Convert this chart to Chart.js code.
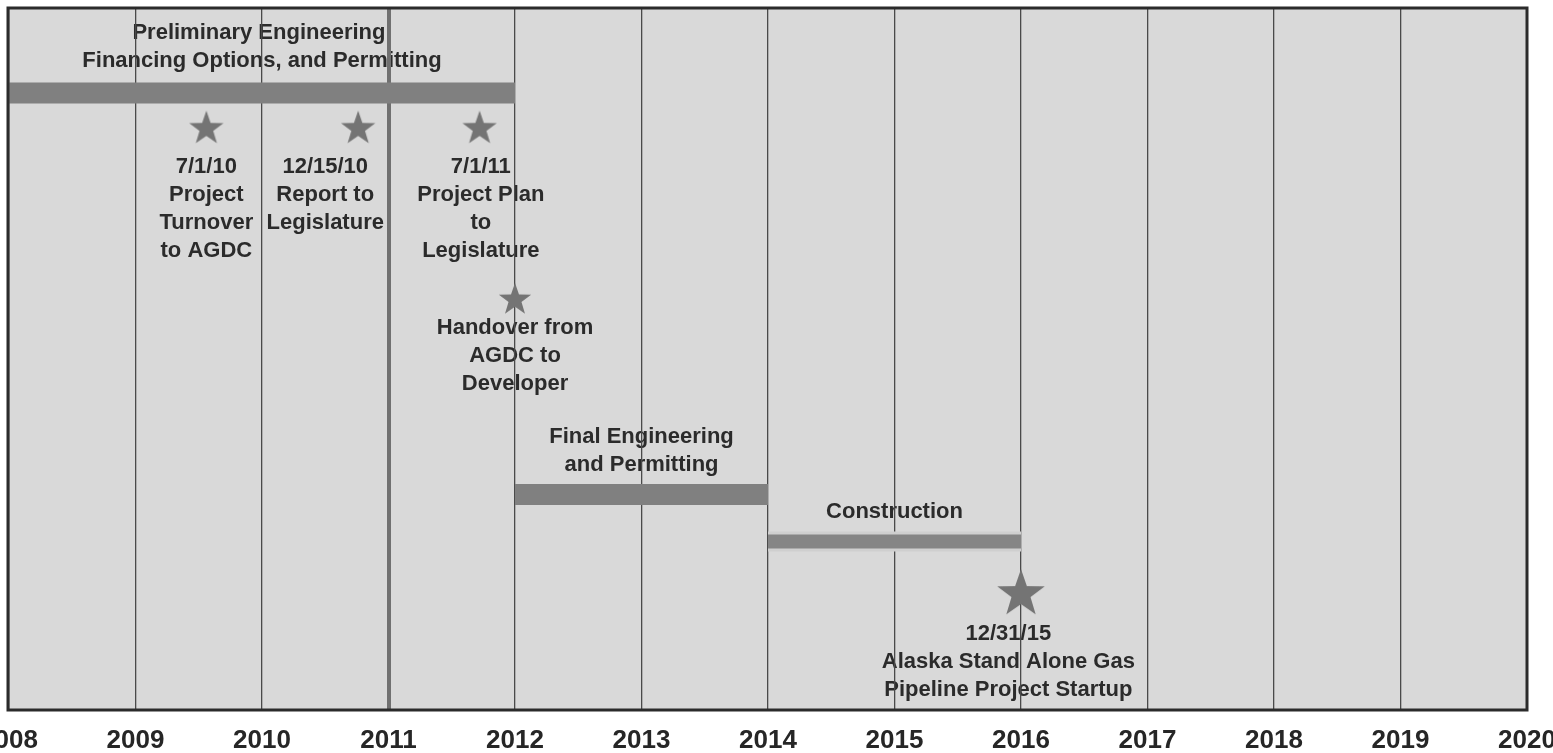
<!DOCTYPE html>
<html>
<head>
<meta charset="utf-8">
<script src="https://cdn.jsdelivr.net/npm/chart.js@4"></script>
<style>
	html, body { margin: 0; padding: 0; background: #fff; }
	#contenedor { position: relative; width: 1553px; height: 753px; }
</style>
</head>
<body>
<div id="contenedor"><canvas id="cronograma"></canvas></div>
<script>
// eje x: años
var anios = [2008, 2009, 2010, 2011, 2012, 2013, 2014, 2015, 2016, 2017, 2018, 2019, 2020];
var etiquetasAnio = ['2008', '2009', '2010', '2011', '2012', '2013', '2014', '2015', '2016', '2017', '2018', '2019', '2020'];

// fases (barras), fila = posicion vertical 0..100 (0 arriba)
var faseInicio = [2008, 2012, 2014];
var faseFin    = [2012, 2014, 2016];
var faseFila   = [12.1, 69.3, 76.0];

// hitos (estrellas)
var hitoX = [2009.56, 2010.76, 2011.72, 2012.0, 2016.0];
var hitoY = [16.9, 16.9, 16.9, 41.3, 83.2];

// textos
var notas = [
	['Preliminary Engineering,', 'Financing Options, and Permitting'],
	['7/1/10', 'Project', 'Turnover', 'to AGDC'],
	['12/15/10', 'Report to', 'Legislature'],
	['7/1/11', 'Project Plan', 'to', 'Legislature'],
	['Handover from', 'AGDC to', 'Developer'],
	['Final Engineering', 'and Permitting'],
	['Construction'],
	['12/31/15', 'Alaska Stand Alone Gas', 'Pipeline Project Startup']
];
var notaX = [2010.0, 2009.56, 2010.5, 2011.73, 2012.0, 2013.0, 2015.0, 2015.9];
var notaY = [3.6, 22.6, 22.6, 22.6, 45.6, 61.1, 71.8, 89.2];

function estrella(r, color) {
	var c = document.createElement('canvas');
	c.width = c.height = Math.ceil(2 * r) + 2;
	var g = c.getContext('2d');
	g.fillStyle = color;
	g.beginPath();
	for (var i = 0; i < 10; i++) {
		var rr = (i % 2) ? r * 0.4 : r;
		var a = -Math.PI / 2 + i * Math.PI / 5;
		g.lineTo(c.width / 2 + rr * Math.cos(a), c.height / 2 + 2 + rr * Math.sin(a));
	}
	g.closePath();
	g.fill();
	return c;
}

var estrellas = [estrella(18, '#747474'), estrella(18, '#747474'), estrella(18, '#747474'), estrella(17, '#747474'), estrella(25, '#747474')];

function linea(i, color, ancho) {
	return {
		type: 'line',
		data: [{x: faseInicio[i], y: faseFila[i]}, {x: faseFin[i], y: faseFila[i]}],
		borderColor: color,
		borderWidth: ancho,
		borderCapStyle: 'butt',
		pointRadius: 0,
		fill: false
	};
}

var fondo = {
	id: 'fondo',
	beforeDraw: function(chart) {
		var a = chart.chartArea, ctx = chart.ctx;
		var sx = chart.scales.x, sy = chart.scales.y;
		ctx.save();
		ctx.fillStyle = '#d9d9d9';
		ctx.fillRect(a.left, a.top, a.right - a.left, a.bottom - a.top);
		ctx.font = 'bold 22px "Liberation Sans", Arial, sans-serif';
		ctx.fillStyle = '#2b2b2b';
		ctx.textAlign = 'center';
		ctx.textBaseline = 'middle';
		notas.forEach(function(lineas, i) {
			var px = sx.getPixelForValue(notaX[i]);
			var py = sy.getPixelForValue(notaY[i]);
			lineas.forEach(function(t, j) { ctx.fillText(t, px, py + j * 28); });
		});
		ctx.restore();
	},
	afterDraw: function(chart) {
		var a = chart.chartArea, ctx = chart.ctx;
		ctx.save();
		ctx.strokeStyle = '#2b2b2b';
		ctx.lineWidth = 3;
		ctx.strokeRect(a.left - 1, a.top, a.right - a.left + 1, a.bottom - a.top);
		ctx.restore();
	}
};

var ctx = document.getElementById('cronograma').getContext('2d');
var chart = new Chart(ctx, {
	type: 'scatter',
	data: {
		// el primero se dibuja encima
		datasets: [
			{
				type: 'scatter',
				data: hitoX.map(function(v, i) { return {x: v, y: hitoY[i]}; }),
				pointStyle: estrellas,
				pointRadius: 20,
				pointHoverRadius: 20
			},
			linea(2, '#858585', 14),
			linea(2, '#cfcfcf', 20),
			linea(1, '#808080', 21),
			linea(0, '#808080', 21)
		]
	},
	options: {
		responsive: true,
		maintainAspectRatio: false,
		animation: false,
		layout: { autoPadding: false, padding: { left: 9, right: 26, top: 8, bottom: 0 } },
		plugins: { legend: { display: false }, tooltip: { enabled: false } },
		scales: {
			x: {
				type: 'linear',
				min: 2008,
				max: 2020,
				afterBuildTicks: function(s) { s.ticks = anios.map(function(v) { return {value: v}; }); },
				afterFit: function(s) { s.paddingLeft = 0; s.paddingRight = 0; s.height = 43; },
				ticks: {
					autoSkip: false,
					maxRotation: 0,
					padding: 15,
					color: '#262626',
					font: { family: '"Liberation Sans", Arial, sans-serif', size: 26, weight: 'bold' },
					callback: function(v) { return etiquetasAnio[anios.indexOf(v)]; }
				},
				grid: {
					drawTicks: false,
					color: function(c) { return c.tick && c.tick.value === 2011 ? '#707070' : '#4a4a4a'; },
					lineWidth: function(c) { return c.tick && c.tick.value === 2011 ? 4 : 1.3; }
				},
				border: { display: false }
			},
			y: {
				type: 'linear',
				min: 0,
				max: 100,
				reverse: true,
				display: false
			}
		}
	},
	plugins: [fondo]
});
</script>
</body>
</html>
